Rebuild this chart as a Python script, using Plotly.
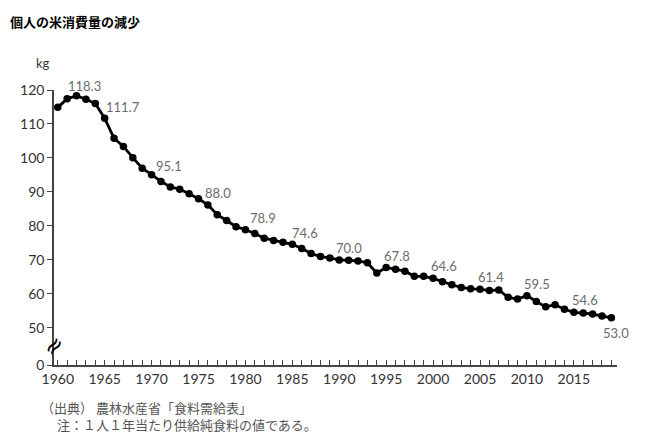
import plotly.graph_objects as go

# per-capita rice consumption (kg / person / year), MAFF food balance sheet
years = list(range(1960, 2020))
rice_kg = [
    114.9, 117.4, 118.3, 117.3, 116.0, 111.7, 105.8, 103.4, 100.1, 97.0,
    95.1, 93.1, 91.5, 90.8, 89.5, 88.0, 86.2, 83.3, 81.6, 79.8,
    78.9, 77.8, 76.4, 75.7, 75.2, 74.6, 73.4, 71.9, 71.0, 70.6,
    70.0, 69.9, 69.7, 69.2, 66.2, 67.8, 67.3, 66.7, 65.2, 65.2,
    64.6, 63.6, 62.7, 61.9, 61.5, 61.4, 61.0, 61.2, 59.0, 58.5,
    59.5, 57.8, 56.2, 56.8, 55.5, 54.6, 54.4, 54.1, 53.5, 53.0,
]

label_years = [1962, 1965, 1970, 1975, 1980, 1985, 1990, 1995, 2000, 2005, 2010, 2015, 2019]
# label offsets in px (right, up) so they sit beside the points like the original
label_shift = {1962: (8, 10), 1965: (18, 11), 1970: (17, 9), 1975: (19, 6),
               1980: (18, 12), 1985: (13, 11), 1990: (10, 12), 1995: (11, 11),
               2000: (11, 12), 2005: (11, 12), 2010: (10, 12), 2015: (11, 12),
               2019: (5, -15)}

# the axis is broken: "0" sits one short step below 50
ytick_vals = [39.1, 50, 60, 70, 80, 90, 100, 110, 120]
ytick_text = ["0", "50", "60", "70", "80", "90", "100", "110", "120"]
xtick_vals = list(range(1960, 2020, 5))

source_note = "（出典） 農林水産省「食料需給表」"
unit_note = "注：１人１年当たり供給純食料の値である。"

NUM_FONT = "Lato"
JP_FONT = "Noto Sans CJK JP"

fig = go.Figure()
fig.add_trace(go.Scatter(
    x=years, y=rice_kg, mode="lines+markers",
    line=dict(color="black", width=2.8),
    marker=dict(color="black", size=7.5),
    cliponaxis=False, showlegend=False,
))

for yr in label_years:
    v = rice_kg[years.index(yr)]
    dx, dy = label_shift[yr]
    fig.add_annotation(x=yr, y=v, text=f"{v:.1f}", showarrow=False,
                       xshift=dx, yshift=dy,
                       font=dict(family=NUM_FONT, size=13, color="#6b6b6b"))

# axis break mark between 0 and 50
fig.add_annotation(x=1959.6, y=44.6, text="≈", showarrow=False, textangle=-50,
                   font=dict(family="DejaVu Sans", size=24, color="black"))

fig.add_annotation(xref="paper", yref="paper", x=-0.004, y=1.098, text="kg",
                   showarrow=False, xanchor="right", yanchor="middle",
                   font=dict(family=NUM_FONT, size=13, color="#333"))

# two-line footnote in one block so the lines sit tight like the original
fig.add_annotation(xref="paper", yref="paper", x=-0.027, y=-0.184,
                   text=source_note + "<br>　 " + unit_note, showarrow=False,
                   xanchor="left", yanchor="middle", align="left",
                   font=dict(family=JP_FONT, size=13, color="#555"))

fig.update_xaxes(range=[1959.6, 2019.6], tickvals=xtick_vals,
                 ticks="inside", ticklen=5, tickcolor="#444", tickwidth=1,
                 minor=dict(dtick=1, tick0=1960, ticks="inside", ticklen=5,
                            tickcolor="#444", tickwidth=1),
                 showline=True, linecolor="#444", linewidth=1.5,
                 showgrid=False, zeroline=False,
                 tickfont=dict(family=NUM_FONT, size=14, color="#333"))
fig.update_yaxes(range=[39.1, 120], tickvals=ytick_vals, ticktext=ytick_text,
                 ticks="outside", ticklen=5, tickcolor="#444", tickwidth=1,
                 showline=True, linecolor="#444", linewidth=1.5,
                 showgrid=False, zeroline=False,
                 tickfont=dict(family=NUM_FONT, size=14, color="#333"))

fig.update_layout(
    title=dict(text="<b>個人の米消費量の減少</b>", x=0.003, y=0.978, xanchor="left",
               font=dict(family=JP_FONT, size=13, color="black")),
    width=650, height=439,
    margin=dict(l=41, r=41, t=82, b=82),
    plot_bgcolor="white", paper_bgcolor="white",
)

fig.write_html("out.html")
